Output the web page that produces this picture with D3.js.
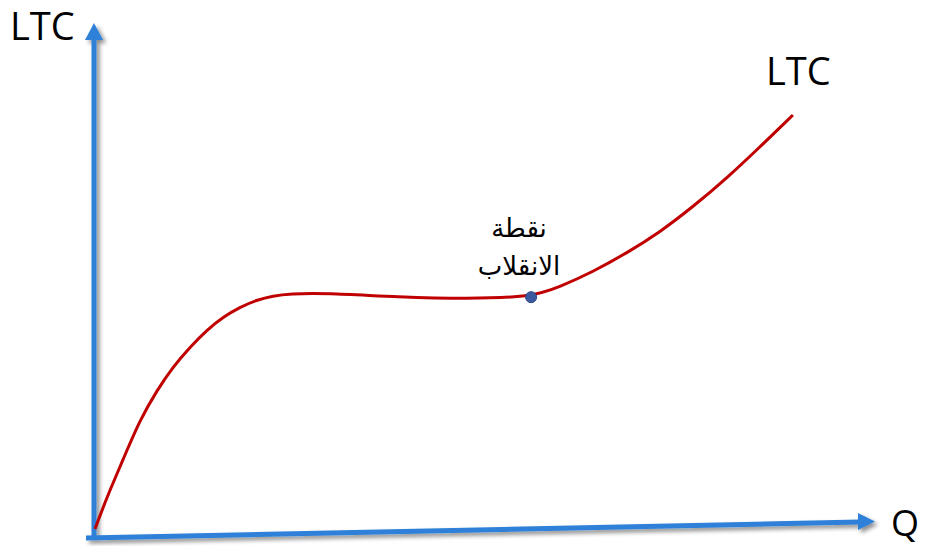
<html>
<head>
<meta charset="utf-8">
<script src="https://d3js.org/d3.v7.min.js"></script>
<style>
body { margin: 0; background: #fff; }
text { font-family: "Open Sans", Lato, sans-serif; fill: #000; }
.ar { font-family: "DejaVu Sans", sans-serif; }
</style>
</head>
<body>
<svg width="926" height="546"></svg>
<script>
// output Q and long-run total cost (0-100 scale)
var qValues   = [0, 1.7, 4.0, 6.4, 8.9, 11.1, 13.6, 16.0, 18.3, 20.7, 23.1, 25.4, 27.9, 32.6, 43.6, 53.1, 62.3, 66.4, 71.1, 76.0, 80.7, 85.4, 90.3, 95.0, 99.7];
var ltcValues = [0, 7.7, 16.7, 26.3, 33.6, 39.1, 44.0, 48.1, 51.2, 53.6, 55.3, 56.3, 56.8, 57.0, 56.0, 55.6, 56.0, 58.5, 62.1, 66.7, 71.7, 77.8, 84.8, 92.3, 100];
var inflection = {q: 62.3, ltc: 56.0};
var yLabel = 'LTC', xLabel = 'Q', curveLabel = 'LTC';
var pointLabel = ['نقطة', 'الانقلاب'];

var svg = d3.select('svg');
var xs = d3.scaleLinear().domain([0, 100]).range([95, 795]);
var ys = d3.scaleLinear().domain([0, 100]).range([529, 115]);

var defs = svg.append('defs');
var f = defs.append('filter').attr('id', 'shadow').attr('x', '-20%').attr('y', '-20%').attr('width', '140%').attr('height', '140%');
f.append('feDropShadow').attr('dx', 3).attr('dy', 3).attr('stdDeviation', 2)
  .attr('flood-color', '#000').attr('flood-opacity', 0.45);

var blue = '#2e80d8';
var axes = svg.append('g').attr('filter', 'url(#shadow)');
// y axis
axes.append('line').attr('x1', 94).attr('y1', 540).attr('x2', 94).attr('y2', 36)
  .attr('stroke', blue).attr('stroke-width', 5);
axes.append('path').attr('d', 'M85,40 L94,23 L103,40 Z').attr('fill', blue);
// x axis (slightly tilted, as in the drawing)
axes.append('line').attr('x1', 86).attr('y1', 538).attr('x2', 860).attr('y2', 522)
  .attr('stroke', blue).attr('stroke-width', 5);
axes.append('path').attr('d', 'M858,513 L875,521.5 L858,530 Z').attr('fill', blue);

var pts = qValues.map(function(q, i) { return [q, ltcValues[i]]; });
var line = d3.line().x(function(d) { return xs(d[0]); }).y(function(d) { return ys(d[1]); })
  .curve(d3.curveBasis);
svg.append('path').datum(pts).attr('d', line)
  .attr('fill', 'none').attr('stroke', '#c00000').attr('stroke-width', 3);

svg.append('circle').attr('cx', xs(inflection.q)).attr('cy', ys(inflection.ltc)).attr('r', 5.5)
  .attr('fill', '#3c5aa0').attr('stroke', '#2b4585').attr('stroke-width', 1);

svg.append('text').attr('x', 10).attr('y', 40).attr('font-size', 38).text(yLabel);
svg.append('text').attr('x', 766).attr('y', 85).attr('font-size', 38).text(curveLabel);
svg.append('text').attr('x', 891).attr('y', 536).attr('font-size', 36).text(xLabel);

svg.append('text').attr('class', 'ar').attr('x', 519).attr('y', 237).attr('font-size', 26)
  .attr('text-anchor', 'middle').text(pointLabel[0]);
svg.append('text').attr('class', 'ar').attr('x', 519).attr('y', 275).attr('font-size', 26)
  .attr('text-anchor', 'middle').text(pointLabel[1]);
</script>
</body>
</html>
